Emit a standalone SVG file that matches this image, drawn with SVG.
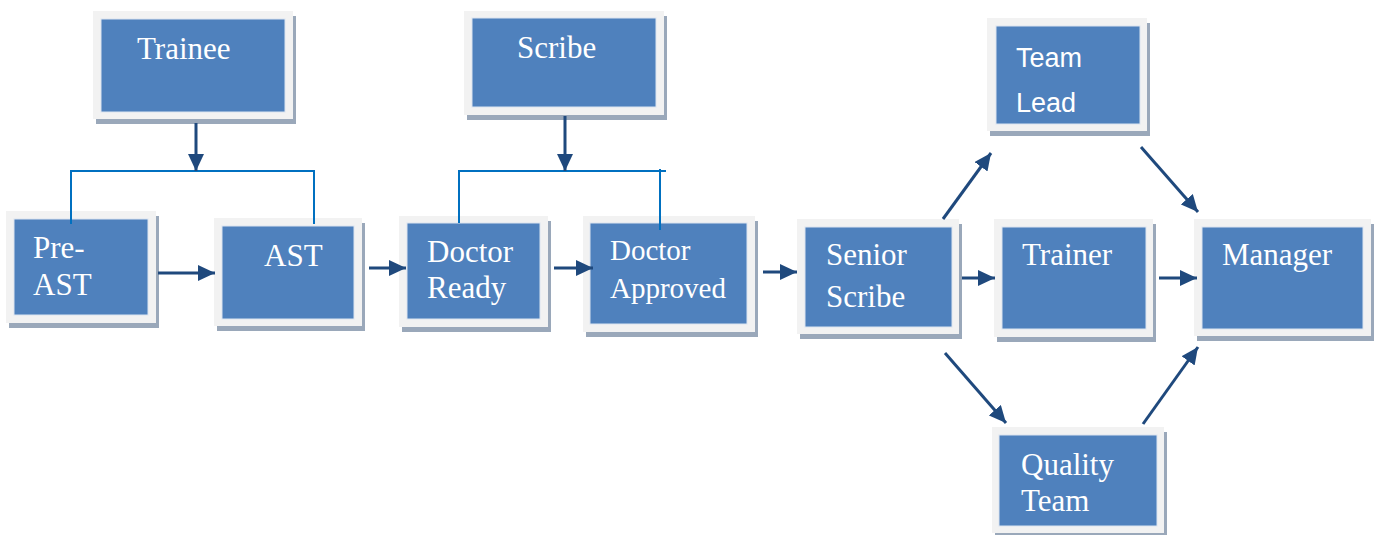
<svg xmlns="http://www.w3.org/2000/svg" width="1379" height="535" viewBox="0 0 1379 535">
  <style>
    .shadow { fill: #9aa8ba; }
    .frame { fill: #f2f2f2; }
    .inner { fill: #4f81bd; stroke: #dbe4f0; stroke-width: 1; }
    .lbl { font-family: "Liberation Serif", "Times New Roman", serif; font-size: 31px; fill: #ffffff; }
    .lbl2 { font-family: "Liberation Serif", "Times New Roman", serif; font-size: 29px; fill: #ffffff; }
    .sans { font-family: "Liberation Sans", Arial, sans-serif; font-size: 27px; fill: #ffffff; }
    .arr { stroke: #1f497d; stroke-width: 3; fill: none; marker-end: url(#ah); }
    .brk { stroke: #0070c0; stroke-width: 2; fill: none; }
  </style>
  <defs>
    <marker id="ah" viewBox="0 0 17 16" refX="17" refY="8" markerWidth="17" markerHeight="16" markerUnits="userSpaceOnUse" orient="auto">
      <path d="M0,0 L17,8 L0,16 Z" fill="#1f497d"/>
    </marker>
  </defs>
  <rect width="1379" height="535" fill="#ffffff"/>

  <g id="trainee">
    <rect class="shadow" x="96" y="16" width="200" height="108"/>
    <rect class="frame" x="93" y="11" width="200" height="108"/>
    <rect class="inner" x="101" y="19" width="184" height="93"/>
    <text class="lbl" x="137" y="59">Trainee</text>
  </g>
  <g id="pre-ast">
    <rect class="shadow" x="9" y="216" width="150" height="112"/>
    <rect class="frame" x="6" y="211" width="150" height="112"/>
    <rect class="inner" x="14" y="219" width="134" height="96"/>
    <text class="lbl" x="33" y="258">Pre-</text>
    <text class="lbl" x="33" y="295">AST</text>
  </g>
  <g id="ast">
    <rect class="shadow" x="217" y="223" width="148" height="108"/>
    <rect class="frame" x="214" y="218" width="148" height="108"/>
    <rect class="inner" x="222" y="226" width="132" height="93"/>
    <text class="lbl" x="264" y="266">AST</text>
  </g>
  <g id="scribe">
    <rect class="shadow" x="467" y="16" width="200" height="104"/>
    <rect class="frame" x="464" y="11" width="200" height="104"/>
    <rect class="inner" x="472" y="18" width="184" height="89"/>
    <text class="lbl" x="517" y="58">Scribe</text>
  </g>
  <g id="doctor-ready">
    <rect class="shadow" x="402" y="221" width="149" height="111"/>
    <rect class="frame" x="399" y="216" width="149" height="111"/>
    <rect class="inner" x="407" y="223" width="133" height="96"/>
    <text class="lbl" x="427" y="262">Doctor</text>
    <text class="lbl" x="427" y="298">Ready</text>
  </g>
  <g id="doctor-approved">
    <rect class="shadow" x="586" y="221" width="172" height="116"/>
    <rect class="frame" x="583" y="216" width="172" height="116"/>
    <rect class="inner" x="590" y="223" width="157" height="101"/>
    <text class="lbl2" x="610" y="260">Doctor</text>
    <text class="lbl2" x="610" y="298">Approved</text>
  </g>
  <g id="senior-scribe">
    <rect class="shadow" x="800" y="224" width="162" height="115"/>
    <rect class="frame" x="797" y="219" width="162" height="115"/>
    <rect class="inner" x="805" y="227" width="147" height="100"/>
    <text class="lbl" x="826" y="265">Senior</text>
    <text class="lbl" x="826" y="307">Scribe</text>
  </g>
  <g id="team-lead">
    <rect class="shadow" x="990" y="23" width="160" height="113"/>
    <rect class="frame" x="987" y="18" width="160" height="113"/>
    <rect class="inner" x="996" y="26" width="144" height="98"/>
    <text class="sans" x="1016" y="67">Team</text>
    <text class="sans" x="1016" y="112">Lead</text>
  </g>
  <g id="trainer">
    <rect class="shadow" x="997" y="224" width="159" height="118"/>
    <rect class="frame" x="994" y="219" width="159" height="118"/>
    <rect class="inner" x="1002" y="227" width="144" height="102"/>
    <text class="lbl" x="1022" y="265">Trainer</text>
  </g>
  <g id="manager">
    <rect class="shadow" x="1197" y="224" width="177" height="117"/>
    <rect class="frame" x="1194" y="219" width="177" height="117"/>
    <rect class="inner" x="1202" y="227" width="161" height="102"/>
    <text class="lbl" x="1222" y="265">Manager</text>
  </g>
  <g id="quality-team">
    <rect class="shadow" x="995" y="432" width="172" height="106"/>
    <rect class="frame" x="992" y="427" width="172" height="106"/>
    <rect class="inner" x="999" y="435" width="158" height="91"/>
    <text class="lbl" x="1021" y="475">Quality</text>
    <text class="lbl" x="1021" y="511">Team</text>
  </g>

  <g id="connectors">
    <polyline class="brk" points="71,224 71,171 314,171 314,224"/>
    <polyline class="brk" points="459,223 459,171 666,171"/>
    <line class="brk" x1="660" y1="169" x2="660" y2="230"/>
    <line class="arr" x1="196" y1="123" x2="196" y2="171"/>
    <line class="arr" x1="565" y1="116" x2="565" y2="171"/>
    <line class="arr" x1="158" y1="273" x2="215" y2="273"/>
    <line class="arr" x1="369" y1="268" x2="406" y2="268"/>
    <line class="arr" x1="554" y1="268" x2="593" y2="268"/>
    <line class="arr" x1="763" y1="272" x2="797" y2="272"/>
    <line class="arr" x1="943" y1="219" x2="991" y2="153"/>
    <line class="arr" x1="1141" y1="147" x2="1198" y2="212"/>
    <line class="arr" x1="962" y1="278" x2="995" y2="278"/>
    <line class="arr" x1="1159" y1="278" x2="1197" y2="278"/>
    <line class="arr" x1="945" y1="353" x2="1006" y2="423"/>
    <line class="arr" x1="1143" y1="424" x2="1198" y2="347"/>
  </g>
</svg>
